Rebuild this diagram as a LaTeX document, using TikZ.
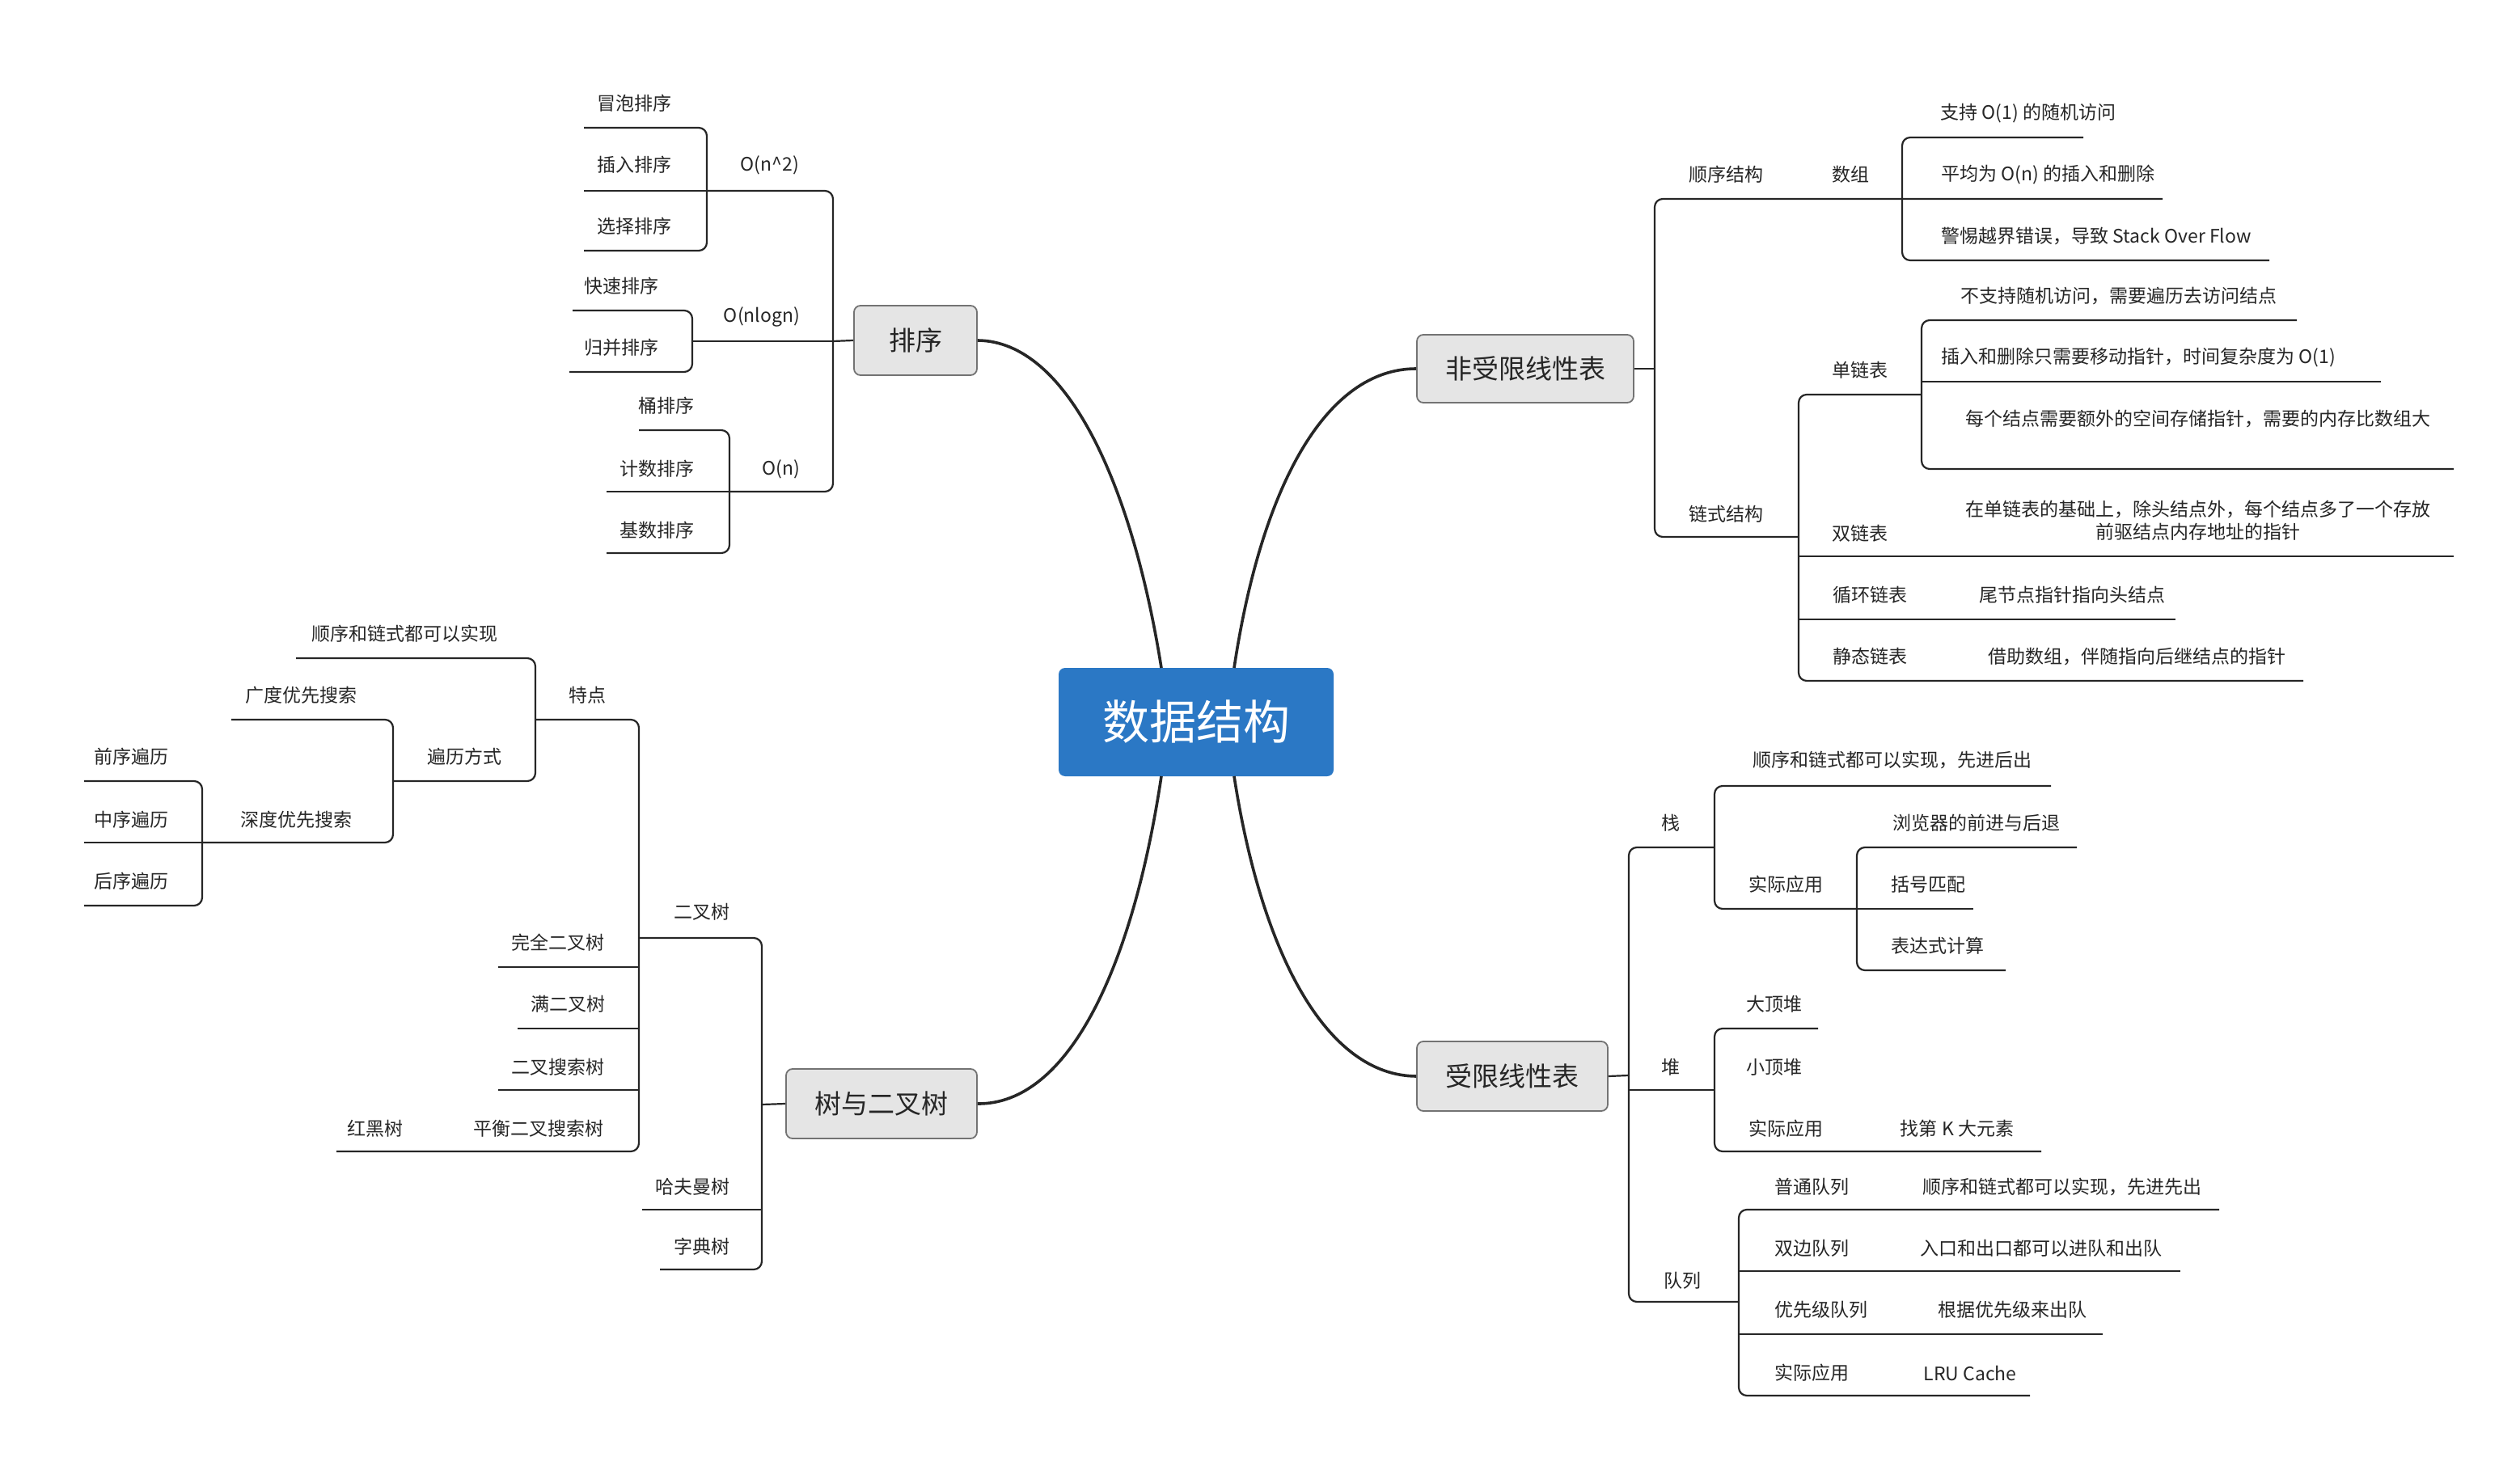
\documentclass[tikz,border=0pt]{standalone}
\usepackage{fontspec}
\setmainfont{Noto Sans CJK SC}
\begin{document}
\begin{tikzpicture}[x=1pt,y=-1pt,line width=1.1pt,
  t/.style={font=\fontsize{11.5}{14}\selectfont,text=black!85,inner sep=0pt},
  ln/.style={draw=black!85,rounded corners=5pt},
  box/.style={draw=black!55,fill=black!10,rounded corners=4pt,line width=0.9pt,font=\fontsize{16.5}{20}\selectfont,text=black!85},
  cv/.style={draw=black!85,line width=1.8pt}]
\useasboundingbox (0,0) rectangle (1558,909);
\newcommand{\br}[5]{\draw[ln] (#4,#2) -- (#1,#2) -- (#1,#3) -- (#5,#3);}
\newcommand{\hl}[3]{\draw[ln] (#1,#3) -- (#2,#3);}
% center
\node[draw=none,fill={rgb,255:red,43;green,120;blue,197},rounded corners=4pt,minimum width=170pt,minimum height=67pt,text=white,font=\fontsize{29}{34}\selectfont] (c) at (739.5,446.5) {数据结构};
\node[box,minimum width=76pt,minimum height=43pt] (px) at (566,210.5) {排序};
\node[box,minimum width=134pt,minimum height=42pt] (fs) at (943,228) {非受限线性表};
\node[box,minimum width=118pt,minimum height=43pt] (sh) at (545,682.5) {树与二叉树};
\node[box,minimum width=118pt,minimum height=43pt] (sx) at (935,665.5) {受限线性表};
\draw[cv] (718,413) .. controls (700,300) and (660,211) .. (px.east);
\draw[cv] (763,413) .. controls (780,300) and (820,228) .. (fs.west);
\draw[cv] (718,480) .. controls (700,600) and (660,683) .. (sh.east);
\draw[cv] (763,480) .. controls (780,590) and (820,665) .. (sx.west);
% ---- sort
\draw[ln] (px.west) -- (515,211);
\br{515}{118}{304}{437}{451}
\hl{437}{515}{211}\draw[ln](515,211)--(428,211);
\node[t] (n2) at (476,102) {O(n\^{}2)};
\node[t] (nlog) at (471,196) {O(nlogn)};
\node[t] (on) at (483,290) {O(n)};
\br{437}{79}{155}{361}{361}\hl{361}{437}{118}
\node[t] (a1) at (392,64) {冒泡排序};
\node[t] (a2) at (392,102) {插入排序};
\node[t] (a3) at (392,140) {选择排序};
\br{428}{192}{230}{354}{352}
\node[t] (b1) at (384,177) {快速排序};
\node[t] (b2) at (384,215) {归并排序};
\br{451}{266}{342}{395}{375}\hl{375}{451}{304}
\node[t] (c1) at (412,251) {桶排序};
\node[t] (c2) at (406,290) {计数排序};
\node[t] (c3) at (406,328) {基数排序};
% ---- tree
\draw[ln] (sh.west) -- (471,683);
\br{471}{580}{785}{395}{408}\hl{397}{471}{748}
\node[t] (ecs) at (434,564) {二叉树};
\node[t] (hfm) at (428,734) {哈夫曼树};
\node[t] (zds) at (434,771) {字典树};
\br{395}{445}{712}{331}{208}
\hl{308}{395}{598}\hl{320}{395}{636}\hl{308}{395}{674}
\node[t] (td) at (363,430) {特点};
\node[t] (wq) at (345,583) {完全二叉树};
\node[t] (mm) at (351,621) {满二叉树};
\node[t] (ss) at (345,660) {二叉搜索树};
\node[t] (ph) at (333,698) {平衡二叉搜索树};
\node[t] (hh) at (232,698) {红黑树};
\br{331}{407}{483}{183}{243}
\node[t] (sl) at (250,392) {顺序和链式都可以实现};
\node[t] (bl) at (287,468) {遍历方式};
\br{243}{445}{521}{143}{125}
\node[t] (gd) at (186,430) {广度优先搜索};
\node[t] (sd) at (183,507) {深度优先搜索};
\br{125}{483}{560}{52}{52}\hl{52}{125}{521}
\node[t] (q1) at (81,468) {前序遍历};
\node[t] (q2) at (81,507) {中序遍历};
\node[t] (q3) at (81,545) {后序遍历};
% ---- non-restricted
\draw[ln] (fs.east) -- (1023,228);
\br{1023}{123}{332}{1337}{1112}
\node[t] (sx1) at (1067,108) {顺序结构};
\node[t] (sz) at (1144,108) {数组};
\br{1176}{85}{161}{1288}{1403}
\node[t] (s1) at (1254,70) {支持 O(1) 的随机访问};
\node[t] (s2) at (1266,108) {平均为 O(n) 的插入和删除};
\node[t] (s3) at (1296,146) {警惕越界错误，导致 Stack Over Flow};
\node[t] (ls) at (1067,318) {链式结构};
\br{1112}{244}{421}{1188}{1424}
\hl{1112}{1517}{344}\hl{1112}{1345}{383}
\node[t] (dl) at (1150,229) {单链表};
\node[t] (sl2) at (1150,330) {双链表};
\node[t] (xh) at (1156,368) {循环链表};
\node[t] (jt) at (1156,406) {静态链表};
\node[t,align=center] (slt) at (1359,322) {在单链表的基础上，除头结点外，每个结点多了一个存放\\前驱结点内存地址的指针};
\node[t] (xht) at (1281,368) {尾节点指针指向头结点};
\node[t] (jtt) at (1321,406) {借助数组，伴随指向后继结点的指针};
\br{1188}{198}{290}{1420}{1517}\hl{1188}{1472}{236}
\node[t] (d1) at (1310,183) {不支持随机访问，需要遍历去访问结点};
\node[t] (d2) at (1322,221) {插入和删除只需要移动指针，时间复杂度为 O(1)};
\node[t] (d3) at (1359,259) {每个结点需要额外的空间存储指针，需要的内存比数组大};
% ---- restricted
\draw[ln] (sx.east) -- (1007,665);
\br{1007}{524}{805}{1060}{1075}\hl{1007}{1060}{674}
\node[t] (zh) at (1033,509) {栈};
\node[t] (du) at (1033,660) {堆};
\node[t] (dl2) at (1040,792) {队列};
\br{1060}{486}{562}{1268}{1148}
\node[t] (z1) at (1170,470) {顺序和链式都可以实现，先进后出};
\node[t] (z2) at (1104,547) {实际应用};
\br{1148}{524}{600}{1284}{1240}\hl{1148}{1220}{562}
\node[t] (y1) at (1222,509) {浏览器的前进与后退};
\node[t] (y2) at (1192,547) {括号匹配};
\node[t] (y3) at (1198,585) {表达式计算};
\br{1060}{636}{712}{1124}{1262}
\node[t] (h1) at (1097,621) {大顶堆};
\node[t] (h2) at (1097,660) {小顶堆};
\node[t] (h3) at (1104,698) {实际应用};
\node[t] (h4) at (1210,698) {找第 K 大元素};
\br{1075}{748}{863}{1372}{1255}\hl{1075}{1348}{786}\hl{1075}{1300}{825}
\node[t] (k1) at (1120,734) {普通队列};
\node[t] (k2) at (1120,772) {双边队列};
\node[t] (k3) at (1126,810) {优先级队列};
\node[t] (k4) at (1120,849) {实际应用};
\node[t] (k5) at (1275,734) {顺序和链式都可以实现，先进先出};
\node[t] (k6) at (1262,772) {入口和出口都可以进队和出队};
\node[t] (k7) at (1244,810) {根据优先级来出队};
\node[t] (k8) at (1218,849) {LRU Cache};
\end{tikzpicture}
\end{document}
